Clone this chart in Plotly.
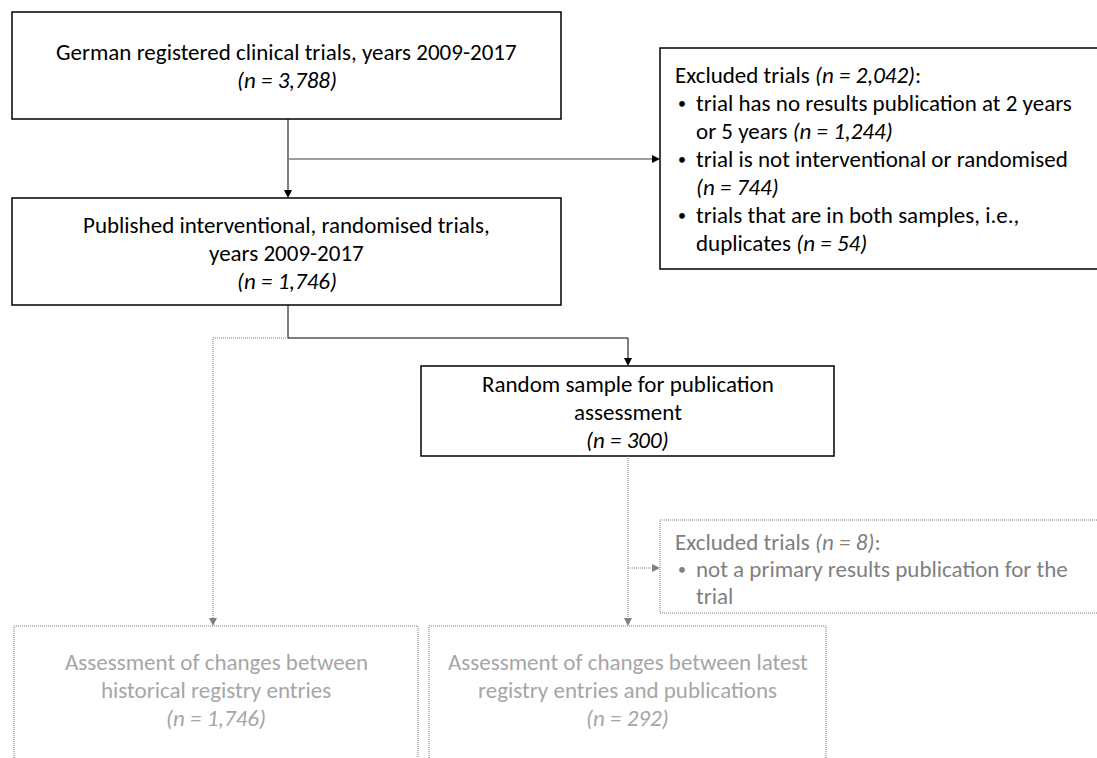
import plotly.graph_objects as go

# ---- content ----
box_titles = [
    ["German registered clinical trials, years 2009-2017"],
    ["Published interventional, randomised trials,", "years 2009-2017"],
    ["Random sample for publication", "assessment"],
    ["Assessment of changes between", "historical registry entries"],
    ["Assessment of changes between latest", "registry entries and publications"],
]
box_n = ["3,788", "1,746", "300", "1,746", "292"]

excl1_n = "2,042"
excl1_items = [
    ["trial has no results publication at 2 years", "or 5 years <i>(n = 1,244)</i>"],
    ["trial is not interventional or randomised", "<i>(n = 744)</i>"],
    ["trials that are in both samples, i.e.,", "duplicates <i>(n = 54)</i>"],
]
excl2_n = "8"
excl2_items = [["not a primary results publication for the", "trial"]]

# ---- layout geometry (pixels) ----
W, H = 1097, 758
FONT = "Carlito, Lato, sans-serif"
FS = 23
LH = 28
BLACK = "#000000"
GREY_LINE = "#7f7f7f"
GREY_TXT = "#808080"
LIGHT_TXT = "#a6a6a6"
DOT = "1px,1px"

# (x0, y0, x1, y1, style, text_center_y_of_first_line)
boxes = [
    (12, 12, 561, 119, "solid", 52),
    (12, 198, 561, 305, "solid", 225),
    (421, 366, 834, 456, "solid", 384),
    (14, 626, 418, 790, "dot", 662),
    (429, 626, 826, 790, "dot", 662),
]

fig = go.Figure()
shapes = []
annotations = []


def add_text(x, y, txt, color, anchor="center", size=FS):
    annotations.append(dict(
        x=x, y=y, xref="x", yref="y", text=txt, showarrow=False,
        xanchor=anchor, yanchor="middle",
        font=dict(family=FONT, size=size, color=color),
    ))


def rect(x0, y0, x1, y1, style, color):
    shapes.append(dict(
        type="rect", x0=x0, y0=y0, x1=x1, y1=y1, xref="x", yref="y",
        line=dict(color=color, width=1.5 if style == "solid" else 1,
                  dash="solid" if style == "solid" else DOT),
        fillcolor="rgba(0,0,0,0)",
    ))


def line(pts, color, style="solid", width=1):
    path = "M " + " L ".join(f"{x},{y}" for x, y in pts)
    shapes.append(dict(
        type="path", path=path, xref="x", yref="y",
        line=dict(color=color, width=width,
                  dash="solid" if style == "solid" else DOT),
    ))


def head(x, y, direction, color, size=8):
    h = size / 2
    if direction == "down":
        p = f"M {x},{y} L {x-h},{y-size} L {x+h},{y-size} Z"
    else:  # right
        p = f"M {x},{y} L {x-size},{y-h} L {x-size},{y+h} Z"
    shapes.append(dict(type="path", path=p, xref="x", yref="y",
                       line=dict(color=color, width=0), fillcolor=color))


# main boxes
for i, (x0, y0, x1, y1, style, ty) in enumerate(boxes):
    col = BLACK if style == "solid" else GREY_LINE
    tcol = BLACK if style == "solid" else LIGHT_TXT
    rect(x0, y0, x1, y1, style, col)
    cx = (x0 + x1) / 2
    lines = box_titles[i] + [f"<i>(n = {box_n[i]})</i>"]
    for k, t in enumerate(lines):
        add_text(cx, ty + k * LH, t, tcol)

# excluded box 1
rect(660, 48, 1120, 269, "solid", BLACK)
add_text(673, 75, f"Excluded trials <i>(n = {excl1_n})</i>:", BLACK, "left")
yy = 75 + LH
for item in excl1_items:
    add_text(676, yy, "•", BLACK, "left", 16)
    for t in item:
        add_text(694, yy, t, BLACK, "left")
        yy += LH

# excluded box 2
rect(660, 520, 1120, 613, "dot", GREY_LINE)
add_text(673, 542, f"Excluded trials <i>(n = {excl2_n})</i>:", GREY_TXT, "left")
yy = 542 + 27
for item in excl2_items:
    add_text(676, yy, "•", GREY_TXT, "left", 16)
    for t in item:
        add_text(694, yy, t, GREY_TXT, "left")
        yy += 27

# connectors
line([(288, 119), (288, 191)], BLACK)
head(288, 198, "down", BLACK)
line([(288, 159), (653, 159)], GREY_LINE, width=1.5)
head(660, 159, "right", BLACK)
line([(288, 305), (288, 338), (628, 338), (628, 359)], BLACK)
head(628, 366, "down", BLACK)
line([(288, 338), (213, 338), (213, 619)], GREY_LINE, "dot")
head(213, 626, "down", GREY_LINE)
line([(628, 456), (628, 619)], GREY_LINE, "dot")
head(628, 626, "down", GREY_LINE)
line([(628, 568), (653, 568)], GREY_LINE, "dot")
head(660, 568, "right", GREY_LINE)

fig.update_layout(
    width=W, height=H, margin=dict(l=0, r=0, t=0, b=0),
    paper_bgcolor="white", plot_bgcolor="white",
    xaxis=dict(range=[0, W], visible=False, fixedrange=True),
    yaxis=dict(range=[H, 0], visible=False, fixedrange=True),
    shapes=shapes, annotations=annotations, showlegend=False,
)
fig.write_html(
    "out.html",
    config={"displayModeBar": False},
    post_script="document.body.style.margin='0';document.body.style.overflow='hidden';",
)
